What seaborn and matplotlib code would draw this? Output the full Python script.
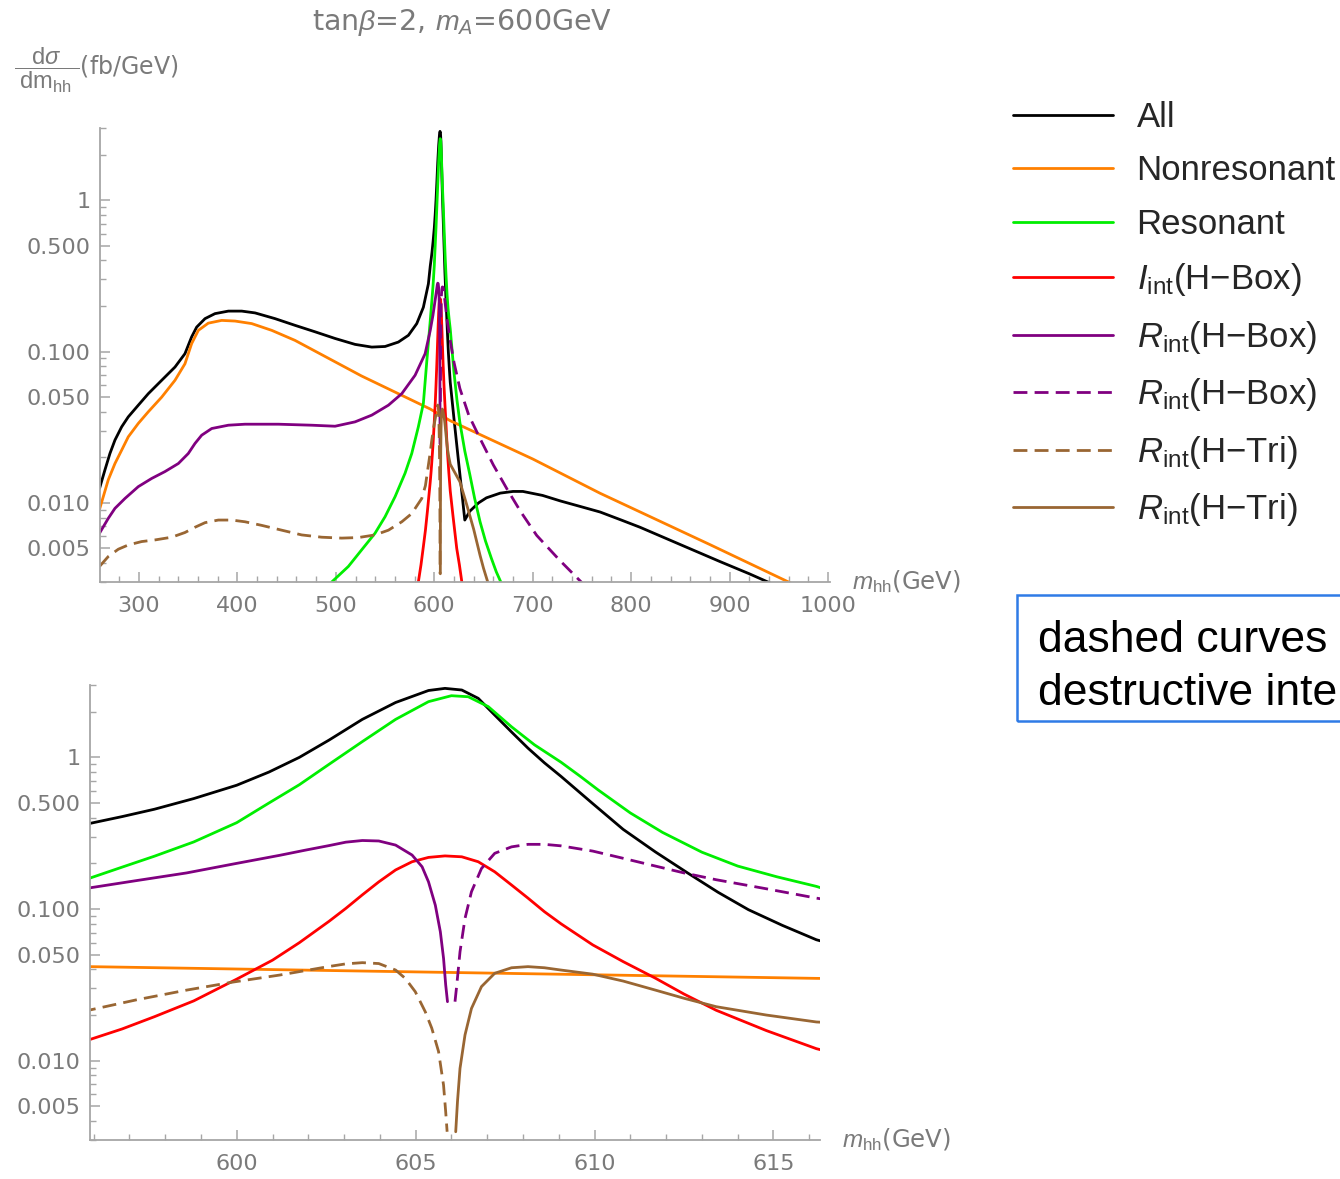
import numpy as np
import pandas as pd
import matplotlib
matplotlib.use("Agg")
import matplotlib.pyplot as plt
import seaborn as sns
from matplotlib.patches import Rectangle
from matplotlib.ticker import FixedLocator, FixedFormatter, MultipleLocator, LogLocator, NullFormatter

# ---------------- data ----------------
all_m = [260, 265.4, 270.5, 275.6, 282.4, 289.1, 299.3, 309.5, 323.1, 336.6,
         346.7, 353.5, 358.6, 367.1, 377.2, 390.8, 404.4, 417.9, 438.2, 458.5,
         478.9, 499.2, 519.5, 536.5, 550, 563.5, 573.7, 582.2, 588.9, 594,
         595.9, 596.8, 597.7, 598.8, 600, 600.9, 601.75, 602.58, 603.51, 604.44,
         605.36, 605.82, 606.29, 606.75, 607.21, 607.68, 608.14, 608.6, 609.06, 609.93,
         610.8, 611.7, 612.6, 613.45, 614.3, 615.25, 616.2,
         620, 625, 631, 636, 645, 653, 667, 680, 690, 710,
         728, 750, 768.5, 790, 809, 850, 890, 920, 944, 950]
all_v = [0.0125, 0.0165, 0.0212, 0.026, 0.0318, 0.037, 0.0442, 0.0527, 0.0646, 0.079,
         0.0968, 0.125, 0.145, 0.165, 0.178, 0.185, 0.185, 0.18, 0.165, 0.149,
         0.135, 0.122, 0.1115, 0.107, 0.108, 0.1155, 0.128, 0.153, 0.196, 0.28,
         0.367, 0.407, 0.455, 0.535, 0.655, 0.80, 1.0, 1.30, 1.78, 2.30,
         2.76, 2.85, 2.78, 2.45, 1.90, 1.47, 1.15, 0.92, 0.75, 0.50,
         0.335, 0.238, 0.173, 0.129, 0.099, 0.078, 0.0627,
         0.036, 0.0178, 0.0077, 0.0088, 0.0100, 0.0108, 0.0116, 0.0119, 0.0119, 0.0112,
         0.0103, 0.0094, 0.0087, 0.0077, 0.0069, 0.0053, 0.0041, 0.0034, 0.0029, 0.0027]

nonres_m = [260, 268.8, 275.6, 282.4, 289.1, 299.3, 309.5, 323.1, 336.6, 346.7,
            353.5, 360.3, 370.4, 384, 397.6, 414.5, 434.9, 458.5, 526, 595.9,
            616.2, 700, 768.5, 880, 964.6, 975]
nonres_v = [0.0091, 0.0142, 0.0182, 0.0223, 0.0273, 0.0335, 0.040, 0.050, 0.0646, 0.083,
            0.1128, 0.138, 0.154, 0.1606, 0.159, 0.153, 0.138, 0.1185, 0.069, 0.0417,
            0.0349, 0.0195, 0.01157, 0.0053, 0.0029, 0.0026]

res_m = [490, 495.8, 512.7, 526.3, 539.8, 550, 560.2, 570.3, 577.1, 583.8,
         588.9, 592.5, 595.9, 596.8, 597.7, 598.8, 600, 600.9, 601.75, 602.58,
         603.51, 604.44, 605.36, 606.0, 606.47, 607.03, 607.68, 608.32, 609.06, 609.6,
         610.1, 611, 611.9, 613, 614, 615.1, 616.2, 620, 623, 626,
         631, 636, 641, 646.5, 652, 658, 663, 668.6, 675]
res_v = [0.0025, 0.003, 0.0038, 0.0049, 0.0063, 0.0081, 0.011, 0.0157, 0.0212, 0.0318,
         0.0454, 0.088, 0.160, 0.189, 0.223, 0.277, 0.371, 0.50, 0.66, 0.90,
         1.27, 1.78, 2.33, 2.55, 2.51, 2.16, 1.59, 1.21, 0.93, 0.75,
         0.61, 0.43, 0.32, 0.237, 0.192, 0.163, 0.141, 0.073, 0.048, 0.034,
         0.022, 0.0155, 0.0107, 0.0075, 0.0056, 0.0043, 0.0035, 0.0029, 0.0023]

iint_m = [578, 583.8, 586.5, 589, 591, 593, 595.9, 596.8, 597.7, 598.8,
          600, 601, 601.75, 602.58, 603.05, 603.51, 603.97, 604.44, 604.9, 605.36,
          605.82, 606.29, 606.75, 607.21, 607.68, 608.14, 608.6, 609.06, 609.95, 610.8,
          611.7, 612.5, 613.4, 614.8, 616.2, 619, 622.8, 625.5, 628, 632]
iint_v = [0.0022, 0.003, 0.0039, 0.0052, 0.0066, 0.0088, 0.0138, 0.0162, 0.0195, 0.0248,
          0.0345, 0.046, 0.060, 0.083, 0.101, 0.124, 0.151, 0.181, 0.205, 0.219,
          0.224, 0.221, 0.205, 0.176, 0.144, 0.118, 0.096, 0.080, 0.058, 0.045,
          0.035, 0.0275, 0.0215, 0.0158, 0.012, 0.0082, 0.005, 0.0039, 0.003, 0.0022]

rbox_pos_m = [259.9, 268.8, 275.6, 285.8, 299.3, 312.9, 326.4, 340, 350.1, 356.9,
              363.7, 373.9, 390.8, 407.7, 441.6, 475.5, 499.2, 519.5, 536.5, 553.4,
              567, 580.5, 590.7, 595.9, 597.2, 598.6, 599.9, 601.2, 601.9, 602.58,
              603.05, 603.51, 603.97, 604.44, 604.9, 605.18, 605.36, 605.55, 605.69, 605.78,
              605.84, 605.89]
rbox_pos_v = [0.0063, 0.0079, 0.0092, 0.0107, 0.0128, 0.0145, 0.0161, 0.0182, 0.0212, 0.0247,
              0.028, 0.031, 0.0326, 0.0331, 0.0331, 0.0326, 0.0321, 0.0343, 0.038, 0.0442,
              0.0527, 0.0697, 0.0968, 0.138, 0.154, 0.173, 0.198, 0.226, 0.244, 0.262,
              0.276, 0.283, 0.281, 0.264, 0.227, 0.190, 0.151, 0.106, 0.0709, 0.0473,
              0.0316, 0.0245]

rbox_neg_m = [606.10, 606.15, 606.24, 606.38, 606.56, 606.84, 607.21, 607.68, 608.14, 608.6,
              609.06, 609.95, 610.8, 611.7, 612.5, 613.4, 614.8, 616.2, 620, 626,
              635, 646.5, 660, 673.7, 688, 704, 727, 751.5, 758]
rbox_neg_v = [0.0245, 0.0316, 0.0523, 0.0868, 0.130, 0.185, 0.233, 0.257, 0.267, 0.267,
              0.261, 0.241, 0.216, 0.192, 0.173, 0.156, 0.136, 0.118, 0.085, 0.057,
              0.038, 0.0266, 0.0178, 0.0124, 0.0087, 0.0061, 0.0042, 0.0029, 0.0026]

rtri_neg_m = [259.9, 268.8, 279, 289.1, 302.7, 316.3, 333.2, 346.7, 356.9, 367.1,
              380.6, 394.2, 407.7, 424.7, 445, 465.3, 485.7, 506, 522.9, 539.8,
              553.4, 567, 577.1, 587.3, 591, 595.9, 597.2, 598.6, 599.9, 601.2,
              601.9, 602.58, 603.05, 603.51, 603.97, 604.44, 604.71, 604.99, 605.27, 605.45,
              605.64, 605.78, 605.84, 605.88]
rtri_neg_v = [0.0038, 0.00442, 0.00494, 0.00527, 0.00555, 0.00569, 0.00593, 0.00637, 0.0069, 0.0074,
              0.0077, 0.0077, 0.0075, 0.0071, 0.0066, 0.00614, 0.00593, 0.00585, 0.0059, 0.00614,
              0.0066, 0.0075, 0.0085, 0.0107, 0.0130, 0.0216, 0.0252, 0.0292, 0.0330, 0.0367,
              0.0392, 0.0418, 0.0435, 0.0443, 0.0437, 0.0396, 0.0349, 0.0285, 0.021, 0.0164,
              0.0115, 0.0069, 0.0046, 0.0034]

rtri_pos_m = [606.12, 606.17, 606.24, 606.38, 606.56, 606.84, 607.21, 607.68, 608.14, 608.6,
              609.06, 609.95, 610.8, 611.7, 612.5, 613.4, 614.8, 616.2, 621, 626,
              633, 640, 646.5, 650, 655, 660]
rtri_pos_v = [0.0034, 0.0054, 0.0089, 0.0148, 0.0221, 0.0308, 0.0377, 0.0410, 0.0417, 0.0410,
              0.0396, 0.0372, 0.0335, 0.0292, 0.0258, 0.0227, 0.0200, 0.018, 0.0158, 0.0138,
              0.0097, 0.0067, 0.0045, 0.0037, 0.0029, 0.0022]

series_labels = ["All", "Nonresonant", "Resonant",
                 r"$I_{\mathrm{int}}$(H$-$Box)", r"$R_{\mathrm{int}}$(H$-$Box)",
                 r"$R_{\mathrm{int}}$(H$-$Box)", r"$R_{\mathrm{int}}$(H$-$Tri)",
                 r"$R_{\mathrm{int}}$(H$-$Tri)"]
y_tick_values = [0.005, 0.01, 0.05, 0.1, 0.5, 1]
y_tick_labels = ["0.005", "0.010", "0.050", "0.100", "0.500", "1"]
top_x_ticks = [300, 400, 500, 600, 700, 800, 900, 1000]
bottom_x_ticks = [600, 605, 610, 615]

# ---------------- styling ----------------
sns.set_style("white")
plt.rcParams["font.family"] = ["DejaVu Sans"]
plt.rcParams["mathtext.fontset"] = "custom"
plt.rcParams["mathtext.rm"] = "Liberation Sans"
plt.rcParams["mathtext.it"] = "Liberation Sans:italic"
plt.rcParams["mathtext.bf"] = "Liberation Sans:bold"
plt.rcParams["mathtext.sf"] = "Liberation Sans"

W, H = 1340, 1179
fig = plt.figure(figsize=(W / 100, H / 100), dpi=100)
fig.patch.set_facecolor("white")


def px_axes(left, right, top, bottom):
    return fig.add_axes([left / W, 1 - bottom / H, (right - left) / W, (bottom - top) / H])


ax1 = px_axes(100, 830, 128, 582)
ax2 = px_axes(90, 820, 685, 1140)

BLACK = "#000000"
ORANGE = "#FF8000"
GREEN = "#00EE00"
RED = "#FF0000"
PURPLE = "#800080"
BROWN = "#996633"
DASH = (0, (5, 2.6))
series = [
    (all_m, all_v, BLACK, "-"),
    (nonres_m, nonres_v, ORANGE, "-"),
    (res_m, res_v, GREEN, "-"),
    (iint_m, iint_v, RED, "-"),
    (rbox_pos_m, rbox_pos_v, PURPLE, "-"),
    (rbox_neg_m, rbox_neg_v, PURPLE, DASH),
    (rtri_neg_m, rtri_neg_v, BROWN, DASH),
    (rtri_pos_m, rtri_pos_v, BROWN, "-"),
]

GRAY_AX = "#a6a6a6"
GRAY_TXT = "#7a7a7a"

for ax in (ax1, ax2):
    for (mm, vv, col, ls), lab in zip(series, series_labels):
        df = pd.DataFrame({"m": mm, "v": vv})
        sns.lineplot(data=df, x="m", y="v", ax=ax, color=col, linestyle=ls, linewidth=2.0,
                     estimator=None, sort=False, legend=False, label=lab)
    ax.set_yscale("log")
    ax.set_ylim(0.003, 3.0)
    ax.set_xlabel("")
    ax.set_ylabel("")
    ax.yaxis.set_major_locator(FixedLocator(y_tick_values))
    ax.yaxis.set_major_formatter(FixedFormatter(y_tick_labels))
    ax.yaxis.set_minor_locator(LogLocator(base=10, subs=np.arange(2, 10)))
    ax.yaxis.set_minor_formatter(NullFormatter())
    for s in ("top", "right"):
        ax.spines[s].set_visible(False)
    for s in ("left", "bottom"):
        ax.spines[s].set_color(GRAY_AX)
        ax.spines[s].set_linewidth(1.3)
    ax.tick_params(axis="both", which="both", bottom=True, left=True, top=False, right=False)
    ax.tick_params(axis="both", which="major", direction="in", length=7, width=1.1,
                   color=GRAY_AX, labelcolor=GRAY_TXT, labelsize=16)
    ax.tick_params(axis="both", which="minor", direction="in", length=4, width=1.0, color=GRAY_AX)
    ax.tick_params(axis="x", which="major", pad=10)
    ax.tick_params(axis="y", which="major", pad=7)
    ax.patch.set_alpha(0)
    ax.annotate(r"$m_{\mathrm{hh}}$(GeV)", xy=(1.03, 0), xycoords="axes fraction",
                va="center", ha="left", fontsize=17.5, color=GRAY_TXT,
                annotation_clip=False)

ax1.set_xlim(260.4, 1002)
ax1.xaxis.set_major_locator(FixedLocator(top_x_ticks))
ax1.xaxis.set_minor_locator(MultipleLocator(20))

ax2.set_xlim(595.9, 616.3)
ax2.xaxis.set_major_locator(FixedLocator(bottom_x_ticks))
ax2.xaxis.set_minor_locator(MultipleLocator(1))

# title and y label
fig.text(462 / W, 1 - 22 / H, r"tan$\beta$=2, $m_A$=600GeV", ha="center", va="center",
         fontsize=20.5, color=GRAY_TXT)
fig.text(14 / W, 1 - 70 / H,
         r"$\dfrac{\;\mathrm{d}\sigma\;}{\;\mathrm{dm}_{\mathrm{hh}}\;}$(fb/GeV)",
         ha="left", va="center", fontsize=17, color=GRAY_TXT)

# legend
handles, labels = ax1.get_legend_handles_labels()
fig.legend(handles, labels, loc="upper left", bbox_to_anchor=(1013 / W, 1 - 101 / H),
           frameon=False, prop={"family": "Liberation Sans", "size": 25},
           handlelength=2.88, handletextpad=0.68, labelspacing=0.59,
           borderpad=0, borderaxespad=0)

# annotation box (cut by the right border in the reference)
fig.patches.append(Rectangle((1017 / W, 1 - 721 / H), 400 / W, 126 / H, transform=fig.transFigure,
                             fill=False, edgecolor="#2f7be6", linewidth=1.8))
fig.text(1038 / W, 1 - 652 / H, "dashed curves", ha="left", va="baseline",
         fontsize=32, color="black", fontfamily="Liberation Sans")
fig.text(1038 / W, 1 - 705 / H, "destructive inte", ha="left", va="baseline",
         fontsize=32, color="black", fontfamily="Liberation Sans")

fig.savefig("out.png", dpi=100)
